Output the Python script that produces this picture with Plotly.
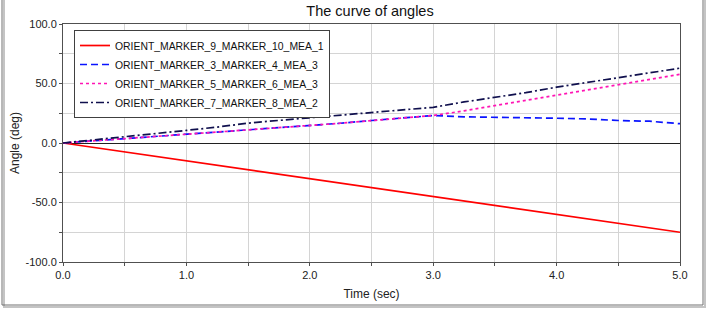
import plotly.graph_objects as go

time_s = [0, 0.25, 0.5, 0.75, 1.0, 1.25, 1.5, 1.75, 2.0, 2.25, 2.5, 2.75,
          3.0, 3.25, 3.5, 3.75, 4.0, 4.25, 4.5, 4.75, 5.0]
mea_9_10_1 = [0, -3.75, -7.5, -11.25, -15, -18.75, -22.5, -26.25, -30, -33.75, -37.5,
              -41.25, -45, -48.75, -52.5, -56.25, -60, -63.75, -67.5, -71.25, -75]
mea_3_4_3 = [0, 1.8, 3.6, 5.8, 7.8, 9.3, 11.2, 13.0, 14.8, 16.6, 18.9, 21.0,
             23.1, 22.0, 21.7, 21.5, 20.8, 20.2, 18.9, 18.3, 16.2]
mea_5_6_3 = [0, 1.8, 3.6, 5.8, 7.8, 9.3, 11.2, 13.0, 14.8, 16.6, 18.9, 20.8,
             23.1, 27.0, 31.4, 35.3, 39.7, 44.3, 48.6, 53.0, 57.8]
mea_7_8_2 = [0, 2.5, 5.0, 7.8, 10.6, 13.4, 16.7, 19.0, 21.2, 23.2, 25.3, 27.5,
             30.0, 34.5, 38.3, 42.3, 46.9, 50.8, 54.7, 58.8, 62.9]

names = ["ORIENT_MARKER_9_MARKER_10_MEA_1", "ORIENT_MARKER_3_MARKER_4_MEA_3",
         "ORIENT_MARKER_5_MARKER_6_MEA_3", "ORIENT_MARKER_7_MARKER_8_MEA_2"]
y_ticks = [-100, -50, 0, 50, 100]
y_labels = ["-100.0", "-50.0", "0.0", "50.0", "100.0"]
x_ticks = [0, 1, 2, 3, 4, 5]
x_labels = ["0.0", "1.0", "2.0", "3.0", "4.0", "5.0"]

FONT = "Liberation Sans, Arial"

fig = go.Figure()
fig.add_trace(go.Scatter(x=time_s, y=mea_9_10_1, name=names[0], mode="lines",
                         line=dict(color="#ff0000", width=1.7)))
fig.add_trace(go.Scatter(x=time_s, y=mea_3_4_3, name=names[1], mode="lines",
                         line=dict(color="#0a14ff", width=1.7, dash="7px,4px")))
fig.add_trace(go.Scatter(x=time_s, y=mea_5_6_3, name=names[2], mode="lines",
                         line=dict(color="#ff14b4", width=1.7, dash="3px,3px")))
fig.add_trace(go.Scatter(x=time_s, y=mea_7_8_2, name=names[3], mode="lines",
                         line=dict(color="#10104e", width=1.7, dash="8px,3px,2px,3px")))

L, R, T, B = 63, 28, 24, 49
W, H = 708, 311
pw, ph = W - L - R, H - T - B

axis_common = dict(
    automargin=False,
    showline=True, linecolor="#505050", linewidth=1, mirror=True,
    showgrid=True, gridcolor="#d4d4d4", gridwidth=1,
    ticks="outside", ticklen=3, tickcolor="#505050",
    tickfont=dict(family=FONT, size=11, color="#222222"),
)

fig.update_xaxes(range=[0, 5], tickvals=x_ticks, ticktext=x_labels,
                 minor=dict(dtick=0.5, showgrid=True, gridcolor="#d4d4d4",
                            ticks="outside", ticklen=3, tickcolor="#505050"),
                 zeroline=False,
                 title=dict(text="Time (sec)", standoff=9,
                            font=dict(family=FONT, size=12, color="#222222")),
                 **axis_common)
fig.update_yaxes(range=[-100, 100], tickvals=y_ticks, ticktext=y_labels,
                 minor=dict(dtick=25, showgrid=True, gridcolor="#d4d4d4",
                            ticks="outside", ticklen=3, tickcolor="#505050"),
                 zeroline=True, zerolinecolor="#202020", zerolinewidth=1,
                 title=dict(text="Angle (deg)", standoff=3,
                            font=dict(family=FONT, size=12, color="#222222")),
                 **axis_common)

# outer frame (with light shadow) around the whole chart
fig.add_shape(type="rect", xref="paper", yref="paper",
              x0=(4 - L) / pw, x1=(705 - L) / pw,
              y0=-(307 - T - ph) / ph, y1=1 + (T + 5) / ph,
              line=dict(color="#c4c4c4", width=2), fillcolor="rgba(0,0,0,0)", layer="below")
fig.add_shape(type="rect", xref="paper", yref="paper",
              x0=(2 - L) / pw, x1=(703 - L) / pw,
              y0=-(305 - T - ph) / ph, y1=1 + (T + 5) / ph,
              line=dict(color="#707070", width=1), fillcolor="rgba(0,0,0,0)", layer="below")

fig.update_layout(
    width=W, height=H,
    margin=dict(l=L, r=R, t=T, b=B, autoexpand=False),
    paper_bgcolor="white", plot_bgcolor="white",
    title=dict(text="The curve of angles", x=370 / W, xanchor="center", y=1 - 11 / H, yanchor="middle",
               font=dict(family=FONT, size=14.5, color="#111111")),
    legend=dict(x=(74 - L) / pw, y=1 - (30 - T) / ph, xanchor="left", yanchor="top",
                bgcolor="white", bordercolor="#404040", borderwidth=1,
                font=dict(family=FONT, size=10.4, color="#111111"),
                itemwidth=30, tracegroupgap=0),
    showlegend=True,
)

fig.write_html("out.html", config={"displayModeBar": False},
               post_script="document.body.style.margin='0';document.body.style.overflow='hidden';")
